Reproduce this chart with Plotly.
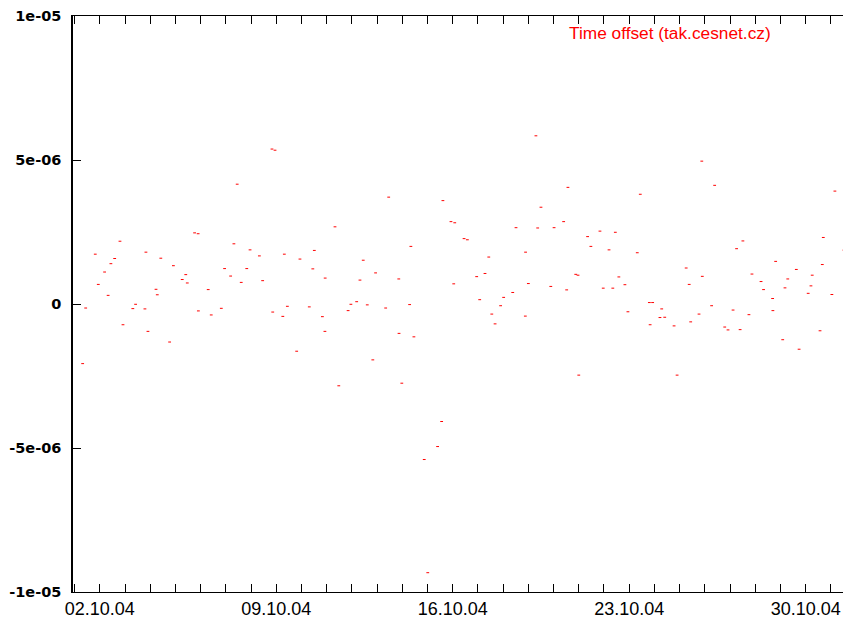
import pandas as pd
import plotly.graph_objects as go

# Time of measurement, as fractional day of October 2004 (1.0 = 01.10.04 00:00)
day_of_oct = [
    1.32, 1.44, 1.82, 1.94, 2.19, 2.33, 2.44, 2.59, 2.80, 2.92,
    3.31, 3.42, 3.79, 3.83, 3.91, 4.23, 4.28, 4.42, 4.77, 4.92,
    5.27, 5.41, 5.47, 5.76, 5.90, 5.91, 6.30, 6.42, 6.82, 6.95,
    7.19, 7.32, 7.45, 7.61, 7.83, 7.96, 8.33, 8.46, 8.83, 8.86,
    8.95, 9.26, 9.32, 9.44, 9.81, 9.94, 10.31, 10.45, 10.51, 10.83,
    10.93, 10.94, 11.33, 11.48, 11.85, 11.96, 12.19, 12.32, 12.45, 12.61,
    12.83, 12.94, 13.34, 13.46, 13.86, 13.87, 13.98, 14.29, 14.34, 14.46,
    14.87, 15.01, 15.40, 15.56, 15.61, 15.93, 16.04, 16.08, 16.45, 16.58,
    16.95, 17.07, 17.28, 17.43, 17.55, 17.68, 17.90, 18.02, 18.38, 18.51,
    18.88, 18.89, 19.00, 19.30, 19.37, 19.50, 19.89, 20.02, 20.40, 20.52,
    20.57, 20.88, 20.97, 21.00, 21.35, 21.48, 21.84, 21.97, 22.20, 22.35,
    22.45, 22.59, 22.83, 22.95, 23.32, 23.44, 23.80, 23.83, 23.93, 24.22,
    24.29, 24.41, 24.78, 24.90, 25.26, 25.38, 25.44, 25.77, 25.88, 25.90,
    26.27, 26.39, 26.79, 26.92, 27.12, 27.26, 27.40, 27.51, 27.75, 27.87,
    28.23, 28.33, 28.69, 28.70, 28.81, 29.09, 29.18, 29.29, 29.63, 29.74,
    30.10, 30.21, 30.26, 30.57, 30.66, 30.70, 31.04, 31.16, 31.52, 31.63,
]

# Time offset in microseconds (1e-06 s)
offset_us = [
    -2.07, -0.14, 1.73, 0.68, 1.11, 0.30, 1.40, 1.58, 2.18, -0.72,
    -0.16, -0.01, -0.17, 1.80, -0.95, 0.51, 0.32, 1.59, -1.32, 1.33,
    0.85, 1.02, 0.73, 2.47, 2.44, -0.24, 0.50, -0.38, -0.15, 1.23,
    0.97, 2.09, 4.16, 0.75, 1.23, 1.88, 1.67, 0.81, 5.38, -0.28,
    5.34, -0.43, 1.73, -0.08, -1.64, 1.56, -0.10, 1.22, 1.86, -0.44,
    -0.95, 0.90, 2.68, -2.84, -0.23, -0.01, 0.08, 0.83, 1.52, -0.03,
    -1.94, 1.08, -0.14, 3.71, 0.87, -1.02, -2.75, -0.02, 2.00, -1.14,
    -5.40, -9.33, -4.95, -4.08, 3.59, 2.86, 0.70, 2.82, 2.27, 2.23,
    0.95, 0.15, 1.06, 1.63, -0.35, -0.69, -0.06, 0.23, 0.40, 2.65,
    -0.42, 1.80, 0.71, 5.84, 2.64, 3.36, 0.61, 2.65, 2.86, 0.49,
    4.05, 1.03, 1.00, -2.47, 2.34, 2.00, 2.53, 0.55, 1.88, 0.55,
    2.49, 0.94, 0.67, -0.27, 1.78, 3.81, 0.05, -0.72, 0.05, -0.47,
    -0.17, -0.46, -0.76, -2.47, 1.25, 0.68, -0.62, -0.35, 4.96, 0.96,
    -0.06, 4.12, -0.80, -0.90, -0.21, 1.92, -0.89, 2.19, -0.37, 1.04,
    0.78, 0.50, 0.19, -0.23, 1.48, -1.24, 0.56, 0.87, 1.20, -1.57,
    0.37, 0.63, 1.00, -0.93, 1.37, 2.31, 0.33, 3.92, 1.87, 1.66,
]

y_tickvals = [-1e-05, -5e-06, 0, 5e-06, 1e-05]
y_ticktext = ["-1e-05", "-5e-06", "0", "5e-06", "1e-05"]
series_name = "Time offset (tak.cesnet.cz)"

base = pd.Timestamp("2004-10-01")
times = [base + pd.Timedelta(days=d - 1) for d in day_of_oct]
values = [v * 1e-6 for v in offset_us]

fig = go.Figure()
fig.add_trace(go.Scatter(
    x=times, y=values, mode="markers", name=series_name,
    marker=dict(symbol="line-ew", size=2, color="red",
                line=dict(color="red", width=1)),
    showlegend=False,
))
fig.add_trace(go.Scatter(x=[times[0]], y=[None], yaxis="y2",
                         mode="markers", showlegend=False, hoverinfo="skip"))

# The page body has an 8px default margin, so the figure is 8px smaller
fig.update_layout(
    width=843, height=616,
    margin=dict(l=65, r=0, t=6, b=32),
    plot_bgcolor="white", paper_bgcolor="white",
    showlegend=False,
    xaxis=dict(
        type="date",
        range=["2004-09-30 22:29", "2004-10-31 19:10"],
        showline=True, linecolor="black", linewidth=1, mirror="allticks",
        ticks="inside", ticklen=8, tickcolor="black", tickwidth=1,
        tick0="2004-10-02", dtick=7 * 86400000, tickformat="%d.%m.%y",
        tickfont=dict(family="Liberation Sans, Arial", size=18, color="black"),
        showgrid=False, zeroline=False,
        minor=dict(ticks="inside", ticklen=4, dtick=86400000,
                   tick0="2004-10-02", tickcolor="black", showgrid=False),
    ),
    yaxis=dict(
        range=[-1e-05, 1e-05],
        tickvals=y_tickvals, ticktext=y_ticktext,
        showline=True, linecolor="black", linewidth=1.5, mirror=False,
        ticks="inside", ticklen=8, tickcolor="black", tickwidth=1,
        tickfont=dict(family="DejaVu Sans", size=14.5, color="black", weight="bold"),
        ticklabelstandoff=7, ticklabeloverflow="allow",
        showgrid=False, zeroline=False,
    ),
    yaxis2=dict(
        range=[-1e-05, 1e-05], overlaying="y", side="right",
        tickvals=y_tickvals, showticklabels=False,
        ticks="inside", ticklen=3, tickcolor="black",
        showline=False, showgrid=False, zeroline=False,
    ),
    annotations=[dict(
        text=series_name, xref="paper", yref="paper",
        x=0.8997, y=0.9706, xanchor="right", yanchor="middle",
        showarrow=False,
        font=dict(family="Liberation Sans, Arial", size=17.3, color="red"),
    )],
)

fig.write_html("out.html")
